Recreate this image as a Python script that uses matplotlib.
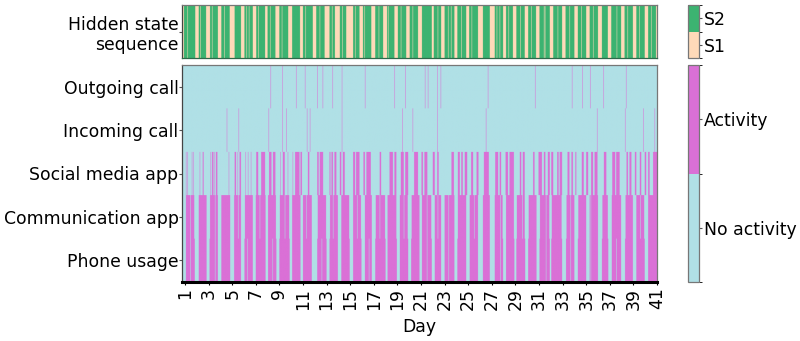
import numpy as np
import matplotlib
matplotlib.use("Agg")
import matplotlib.pyplot as plt
from matplotlib.colors import ListedColormap, BoundaryNorm

# ---------------- data ----------------
row_labels = ["Outgoing call", "Incoming call", "Social media app",
              "Communication app", "Phone usage"]
state_labels = ["S1", "S2"]
activity_labels = ["No activity", "Activity"]
day_ticks = list(range(1, 42, 2))
start_day, end_day = 0.75, 41.0

# hidden state S1 periods (days)
s1_intervals = [
    (0.75, 0.90), (1.87, 2.16), (2.81, 3.14), (3.80, 4.08), (4.79, 5.21),
    (5.77, 6.06), (6.76, 7.04), (7.80, 8.02), (8.65, 9.00), (9.73, 10.07),
    (10.75, 10.98), (11.85, 12.13), (12.84, 13.26), (13.69, 14.11), (14.67, 15.24),
    (15.80, 16.08), (16.79, 17.13), (17.78, 18.14), (18.77, 19.05), (19.76, 20.04),
    (20.75, 21.08), (21.90, 22.10), (22.70, 23.00), (23.85, 24.10), (24.84, 25.10),
    (25.83, 26.25), (26.82, 27.25), (27.95, 28.20), (28.80, 29.08), (29.80, 30.07),
    (30.77, 31.06), (31.90, 32.20), (32.95, 33.25), (34.00, 34.28), (35.00, 35.28),
    (36.00, 36.32), (36.85, 37.13), (37.97, 38.26), (38.97, 39.25), (39.95, 40.24),
    (40.92, 41.00),
]
s1_blips = [1.22, 2.30, 3.32, 4.37, 6.22, 6.44, 7.22, 8.22, 9.22,
            11.22, 12.42, 13.47, 14.37, 15.42, 16.22, 17.42, 18.22, 19.32, 20.32,
            22.42, 23.32, 23.57, 24.42, 25.32, 27.42, 27.67, 28.42, 29.42, 30.37,
            31.42, 31.50, 32.62, 33.62, 34.62, 35.62, 37.62, 38.52, 39.52, 40.52]

# phone usage: inactive periods
phone_off = [
    (0.75, 1.08), (1.82, 2.16), (2.84, 3.09), (3.80, 4.08), (4.84, 5.15),
    (5.77, 6.06), (6.76, 6.99), (7.84, 8.03), (8.74, 9.02), (9.87, 10.07),
    (10.80, 11.00), (11.76, 12.21), (12.98, 13.26), (13.97, 14.25), (14.95, 15.24),
    (15.94, 16.23), (16.85, 17.13), (17.98, 18.15), (18.94, 19.19), (19.90, 20.18),
    (20.89, 21.08), (21.90, 22.15), (22.72, 23.00), (23.85, 24.10), (24.84, 25.12),
    (25.85, 26.25), (26.84, 27.25), (27.95, 28.20), (28.90, 29.10), (29.82, 30.10),
    (30.80, 31.06), (31.90, 32.05), (32.95, 33.30), (34.00, 34.30), (35.00, 35.28),
    (36.00, 36.34), (36.86, 37.15), (37.97, 38.30), (38.97, 39.25), (39.95, 40.24),
]
phone_gaps = [1.47, 3.57, 6.30, 8.45, 12.60, 16.60, 21.52, 23.35, 27.72, 31.62, 33.67, 35.38, 37.55]

# communication app: inactive periods
comm_off = [
    (0.75, 1.10), (1.80, 2.18), (2.82, 3.11), (3.78, 4.10), (4.82, 5.17),
    (5.75, 6.08), (6.74, 7.01), (7.82, 8.05), (8.72, 9.04), (9.85, 10.09),
    (10.78, 11.02), (11.74, 12.23), (12.96, 13.28), (13.95, 14.27), (14.93, 15.26),
    (15.92, 16.25), (16.83, 17.15), (17.96, 18.17), (18.92, 19.21), (19.88, 20.20),
    (20.87, 21.10), (21.88, 22.17), (22.70, 23.02), (23.83, 24.12), (24.82, 25.14),
    (25.83, 26.27), (26.82, 27.27), (27.93, 28.22), (28.88, 29.12), (29.80, 30.12),
    (30.78, 31.08), (31.88, 32.07), (32.93, 33.32), (33.98, 34.32), (34.98, 35.30),
    (35.98, 36.36), (36.84, 37.17), (37.95, 38.32), (38.95, 39.27), (39.93, 40.26),
]
comm_gaps = [1.47, 3.57, 5.52, 7.37, 9.47, 11.32, 13.57, 15.62, 17.52, 19.57,
             21.52, 22.42, 23.35, 25.52, 27.72, 29.62, 31.62, 33.67, 35.38, 37.02, 39.60]

# social media app: active periods
social_on = [
    (1.10, 1.14), (1.21, 1.26), (1.60, 1.64), (1.71, 1.75), (2.25, 2.29), (2.48, 2.58),
    (3.15, 3.22), (3.30, 3.40), (3.50, 3.56), (3.62, 3.74), (4.48, 4.52), (4.71, 4.75),
    (5.21, 5.35), (5.44, 5.48), (5.63, 5.77), (6.12, 6.16), (6.35, 6.39), (6.60, 6.64),
    (7.05, 7.19), (7.47, 7.81), (8.12, 8.32), (8.46, 8.66), (9.09, 9.13), (9.28, 9.45),
    (9.71, 9.75), (10.13, 10.17), (10.35, 10.72),
    (10.80, 10.92), (11.42, 11.54), (12.21, 12.33), (12.41, 12.69), (13.26, 13.34),
    (13.40, 13.54), (13.68, 13.82), (14.11, 14.25), (14.39, 14.53), (15.24, 15.43),
    (15.52, 15.80), (16.14, 16.23), (16.37, 16.73), (17.50, 17.64), (18.34, 18.63),
    (18.77, 18.91), (19.28, 19.56), (19.67, 19.90), (20.41, 20.75),
    (21.03, 21.17), (21.31, 21.54), (22.02, 22.16), (22.38, 22.50), (23.57, 23.80),
    (24.14, 24.28), (24.42, 24.56), (24.70, 24.93), (25.27, 25.41), (25.69, 25.89),
    (26.34, 26.73), (27.30, 27.53), (27.67, 27.81), (28.15, 28.37), (28.51, 28.88),
    (29.36, 29.50), (29.64, 29.79), (30.49, 30.63), (30.97, 31.20),
    (31.14, 31.25), (31.42, 31.54), (31.76, 31.90), (32.05, 32.19), (32.55, 32.67),
    (32.75, 32.95), (33.40, 33.60), (33.74, 33.88), (34.08, 34.16), (34.64, 34.81),
    (35.01, 35.15), (35.43, 35.58), (35.72, 35.94), (36.51, 36.71), (37.19, 37.47),
    (37.55, 37.84), (38.40, 38.54), (38.68, 38.82), (39.11, 39.25), (39.53, 39.67),
    (39.95, 40.10), (40.24, 40.38), (40.66, 41.00),
]

# call events (day of event)
outgoing_calls = [8.26, 9.25, 10.43, 11.20, 12.21, 12.67, 13.54, 14.33, 16.28,
                  18.77, 19.67, 21.36, 21.59, 22.38, 22.67, 26.68, 30.69,
                  33.83, 34.67, 35.35, 36.48, 38.40]
incoming_calls = [4.58, 5.55, 8.09, 9.25, 9.59, 11.36, 11.59, 14.33, 19.42,
                  20.32, 22.38, 26.53, 35.94, 38.32, 39.87, 40.80]

# ---------------- build hourly grids ----------------
n_hours = int(round((end_day - start_day) * 24))
centers = start_day + (np.arange(n_hours) + 0.5) / 24.0


def fill(arr, intervals, val):
    for s, e in intervals:
        arr[(centers >= s) & (centers < e)] = val


def mark(arr, times, val):
    for t in times:
        i = int((t - start_day) * 24)
        if 0 <= i < n_hours:
            arr[i] = val


state = np.ones(n_hours)
fill(state, s1_intervals, 0)
mark(state, s1_blips, 0)

phone = np.ones(n_hours)
fill(phone, phone_off, 0)
mark(phone, phone_gaps, 0)

comm = np.ones(n_hours)
fill(comm, comm_off, 0)
mark(comm, comm_gaps, 0)

social = np.zeros(n_hours)
fill(social, social_on, 1)

outgoing = np.zeros(n_hours)
mark(outgoing, outgoing_calls, 1)
incoming = np.zeros(n_hours)
mark(incoming, incoming_calls, 1)

activity = np.vstack([outgoing, incoming, social, comm, phone])
REP = 40  # vertical repetition so smoothing only acts along time
activity_img = np.repeat(activity, REP, axis=0)
state_img = np.repeat(state[None, :], REP, axis=0)

# ---------------- plot ----------------
FS = 12.4
state_cmap = ListedColormap(["#FFDAB9", "#3CB371"])
act_cmap = ListedColormap(["#B0E0E6", "#DA70D6"])
norm2 = BoundaryNorm([-0.5, 0.5, 1.5], 2)

fig = plt.figure(figsize=(8.0, 3.41), dpi=100)
W, H = 800.0, 341.0
L, R = 182, 657
ax_top = fig.add_axes([L / W, 1 - 58 / H, (R - L) / W, 53 / H])
ax_bot = fig.add_axes([L / W, 1 - 282 / H, (R - L) / W, 217 / H])
cax_top = fig.add_axes([688 / W, 1 - 58 / H, 11 / W, 53 / H])
cax_bot = fig.add_axes([688 / W, 1 - 282 / H, 11 / W, 217 / H])

im1 = ax_top.imshow(state_img, aspect="auto", cmap=state_cmap, norm=norm2,
                    extent=[start_day, end_day, 0, 1], interpolation="antialiased",
                    interpolation_stage="rgba")
ax_top.set_xlim(start_day, end_day)
ax_top.set_xticks([])
ax_top.set_yticks([0.5])
ax_top.set_yticklabels(["Hidden state\nsequence"], fontsize=FS)
ax_top.tick_params(axis="y", length=2.5, width=0.8, color="#555555", pad=0)

im2 = ax_bot.imshow(activity_img, aspect="auto", cmap=act_cmap, norm=norm2,
                    extent=[start_day, end_day, 5, 0], interpolation="antialiased",
                    interpolation_stage="rgba")
ax_bot.set_xlim(start_day, end_day)
ax_bot.set_ylim(5, 0)
ax_bot.set_yticks(np.arange(len(row_labels)) + 0.5)
ax_bot.set_yticklabels(row_labels, fontsize=FS)
ax_bot.set_xticks(day_ticks)
ax_bot.set_xticklabels([str(d) for d in day_ticks], rotation=90, fontsize=FS)
ax_bot.tick_params(axis="y", length=2.5, width=0.8, color="#555555", pad=0)
ax_bot.tick_params(axis="x", length=2, width=0.8, pad=2)
ax_bot.set_xlabel("Day", fontsize=FS, labelpad=6)

for ax in (ax_top, ax_bot):
    for sp in ax.spines.values():
        sp.set_color("#777777")
        sp.set_linewidth(0.9)
    ax.spines["left"].set_color("#444444")
ax_bot.spines["bottom"].set_color("black")
ax_bot.spines["bottom"].set_linewidth(2.2)
ax_top.spines["bottom"].set_color("#2E6B4A")

cb1 = fig.colorbar(im1, cax=cax_top, ticks=[0, 1])
cb1.set_ticklabels(state_labels)
cb2 = fig.colorbar(im2, cax=cax_bot, ticks=[0, 1])
cb2.set_ticklabels(activity_labels)
for cb in (cb1, cb2):
    cb.ax.tick_params(labelsize=FS, length=2.5, width=0.8, color="#555555", pad=1)
    cb.outline.set_edgecolor("#777777")
    cb.outline.set_linewidth(0.9)

fig.savefig("out.png", dpi=100)
